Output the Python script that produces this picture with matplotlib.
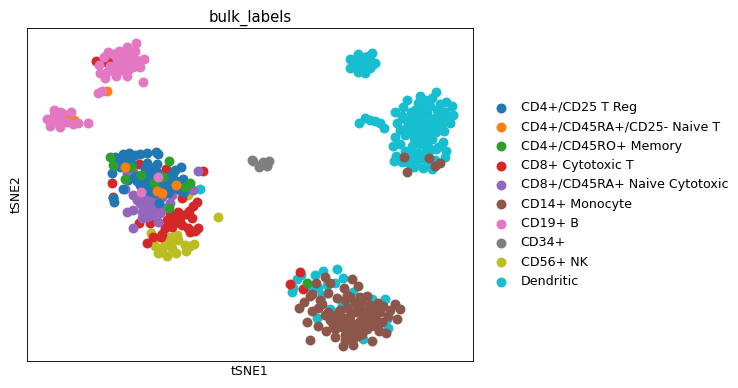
import matplotlib
matplotlib.use('Agg')
from matplotlib import pyplot as plt

# positions, x to the right and y downward
categories = ['CD4+/CD25 T Reg', 'CD4+/CD45RA+/CD25- Naive T', 'CD4+/CD45RO+ Memory',
              'CD8+ Cytotoxic T', 'CD8+/CD45RA+ Naive Cytotoxic', 'CD14+ Monocyte',
              'CD19+ B', 'CD34+', 'CD56+ NK', 'Dendritic']
colors = ['#1f77b4', '#ff7f0e', '#2ca02c', '#d62728', '#9467bd', '#8c564b',
          '#e377c2', '#7f7f7f', '#bcbd22', '#17becf']

treg_x = [115, 123, 129, 135, 140, 147, 156, 158, 118, 120, 128, 147, 157, 148, 157, 147, 112, 128, 137, 142,
          140, 148, 155, 150, 162, 163, 172, 170, 173, 181, 172, 183, 175, 123, 113, 114, 159, 180, 184, 145,
          152, 166, 176, 126, 132, 150, 143, 168, 121, 152, 146, 156, 165, 170, 178, 135, 145, 151]
treg_y = [157, 154, 153, 155, 154, 153, 152, 154, 163, 167, 161, 163, 164, 170, 172, 175, 173, 180, 181, 178,
          185, 187, 193, 191, 180, 187, 183, 190, 173, 167, 176, 179, 170, 189, 198, 202, 203, 190, 192, 168,
          178, 190, 181, 158, 164, 181, 183, 193, 160, 168, 180, 186, 185, 177, 188, 176, 190, 175]
naive_x = [157, 162, 125, 176, 68, 74, 107]
naive_y = [191, 193, 167, 185, 116, 120, 91]
memory_x = [110, 113, 131, 141, 154, 169, 163, 185, 190, 169, 125, 307]
memory_y = [157, 165, 167, 175, 183, 161, 177, 187, 183, 208, 179, 283]
cyto_x = [112, 139, 166, 203, 182, 147, 197, 193, 189, 192, 178, 167, 173, 180, 182, 172, 165, 188, 190, 198,
          195, 150, 139, 153, 161, 147, 113, 133, 186, 176, 170, 162, 96, 109, 106, 112, 300, 290, 303]
cyto_y = [183, 164, 169, 171, 198, 200, 202, 206, 211, 218, 212, 220, 220, 218, 225, 227, 228, 228, 232, 228,
          231, 223, 223, 237, 237, 243, 197, 172, 214, 222, 214, 234, 61, 62, 62, 60, 272, 284, 289]
cd8n_x = [198, 125, 133, 142, 127, 133, 140, 142, 142, 148, 155, 152, 160, 158, 133, 170, 172, 193, 127, 133,
          162, 153, 145, 148, 137, 165, 155, 147]
cd8n_y = [171, 189, 195, 205, 212, 210, 203, 212, 218, 212, 208, 215, 213, 222, 228, 203, 195, 190, 173, 172,
          197, 198, 198, 205, 200, 208, 202, 217]
mono_x = [325, 352, 358, 344, 330, 312, 304, 299, 312, 318, 320, 328, 337, 347, 360, 367, 378, 395, 400, 390,
          397, 307, 318, 326, 335, 310, 343, 353, 372, 386, 379, 367, 316, 345, 350, 355, 362, 370, 376, 383,
          340, 347, 353, 358, 365, 372, 380, 388, 335, 342, 350, 357, 364, 370, 376, 330, 338, 345, 352, 360,
          367, 375, 382, 335, 342, 349, 356, 363, 370, 345, 352, 358, 345, 353, 362, 325, 333, 322, 328, 310,
          404, 407, 440, 435, 429]
mono_y = [277, 279, 286, 288, 283, 294, 302, 308, 311, 308, 300, 293, 298, 295, 297, 296, 303, 304, 309, 310,
          319, 322, 326, 331, 337, 340, 346, 345, 341, 333, 331, 329, 283, 300, 297, 303, 302, 305, 309, 306,
          310, 308, 312, 306, 311, 313, 312, 316, 315, 317, 316, 312, 317, 318, 320, 320, 323, 321, 323, 321,
          324, 326, 322, 329, 327, 329, 328, 330, 326, 335, 333, 336, 340, 339, 334, 315, 325, 304, 312, 296,
          157, 172, 163, 166, 158]
b_x = [136, 127, 119, 108, 113, 130, 135, 104, 144, 117, 125, 132, 137, 99, 110, 118, 127, 133, 140, 100,
       108, 105, 116, 127, 143, 98, 102, 122, 118, 126, 122, 130, 114, 120, 128, 123, 54, 60, 71, 47,
       53, 60, 50, 60, 67, 73, 78, 88, 55, 62, 141, 158]
b_y = [43, 47, 51, 52, 54, 51, 51, 57, 59, 60, 58, 58, 60, 65, 66, 67, 65, 67, 67, 73,
       71, 78, 76, 76, 82, 93, 91, 55, 64, 54, 70, 62, 71, 53, 70, 62, 110, 112, 112, 119,
       117, 118, 126, 127, 122, 124, 123, 123, 122, 113, 192, 177]
cd34_x = [252, 253, 263, 269, 259, 267, 262]
cd34_y = [160, 161, 162, 161, 167, 166, 164]
nk_x = [188, 218, 151, 158, 170, 177, 178, 155, 163, 170, 185, 194, 190, 158, 167, 176, 186, 162, 172, 165]
nk_y = [195, 217, 233, 237, 237, 235, 240, 246, 247, 243, 245, 244, 246, 253, 256, 253, 251, 252, 248, 240]
dend_x = [372, 358, 350, 350, 358, 365, 375, 365, 360, 367, 370, 370, 363, 355, 359, 365, 370, 375, 380, 384,
          436, 420, 407, 446, 452, 403, 395, 453, 397, 450, 444, 400, 395, 443, 393, 400, 438, 446, 445, 396,
          394, 402, 414, 423, 432, 435, 418, 425, 432, 440, 415, 422, 430, 437, 445, 412, 420, 427, 435, 442,
          408, 416, 424, 431, 439, 446, 410, 418, 426, 433, 441, 405, 413, 421, 429, 436, 408, 416, 424, 432,
          412, 420, 428, 436, 410, 418, 426, 405, 413, 421, 431, 409, 417, 425, 403, 411, 419, 427,
          337, 323, 315, 301, 297, 293, 292, 343, 335, 318, 310, 322, 353, 327, 342, 353, 330, 336, 317, 372,
          385, 387, 378, 388, 363, 350, 200, 362, 356, 368, 372, 352, 414, 422, 430, 414, 402, 406]
dend_y = [53, 54, 59, 68, 72, 73, 63, 57, 63, 65, 60, 68, 60, 63, 123, 118, 120, 121, 123, 128,
          92, 96, 100, 102, 106, 107, 112, 115, 123, 123, 131, 130, 137, 142, 146, 144, 147, 151, 157, 156,
          161, 162, 167, 168, 169, 160, 103, 100, 98, 104, 110, 108, 106, 110, 112, 117, 115, 113, 118, 116,
          122, 120, 122, 121, 124, 118, 129, 127, 129, 128, 126, 135, 133, 135, 134, 132, 127, 140, 141, 139,
          146, 144, 147, 149, 152, 153, 151, 151, 158, 156, 164, 163, 161, 159, 118, 112, 109, 107,
          269, 271, 275, 275, 279, 288, 292, 278, 283, 288, 287, 295, 292, 285, 305, 302, 309, 312, 318, 299,
          299, 319, 325, 328, 339, 340, 189, 66, 66, 56, 65, 60, 123, 104, 150, 138, 116, 128]

xs = [treg_x, naive_x, memory_x, cyto_x, cd8n_x, mono_x, b_x, cd34_x, nk_x, dend_x]
ys = [treg_y, naive_y, memory_y, cyto_y, cd8n_y, mono_y, b_y, cd34_y, nk_y, dend_y]
draw_order = [9, 5, 7, 8, 3, 4, 0, 2, 1, 6]

fig = plt.figure(figsize=(738 / 80, 388 / 80), dpi=80)
ax = fig.add_axes([27 / 738, 1 - 361 / 388, 446 / 738, 333 / 388])

handles = {}
for k in draw_order:
    handles[k] = ax.scatter(xs[k], ys[k], s=80, c=colors[k], linewidths=0, label=categories[k], zorder=2 + draw_order.index(k))

ax.set_xlim(27, 473)
ax.set_ylim(361, 28)
ax.set_xticks([])
ax.set_yticks([])
ax.set_xlabel('tSNE1', fontsize=11.2, labelpad=4)
ax.set_ylabel('tSNE2', fontsize=11.2, labelpad=4)
ax.set_title('bulk_labels', fontsize=13.4)
ax.legend([handles[k] for k in range(10)], categories, frameon=False, loc='center left',
          bbox_to_anchor=(1.01, 0.5), fontsize=11.35, labelspacing=0.5, handletextpad=0.53)

fig.savefig('out.png', dpi=80)
